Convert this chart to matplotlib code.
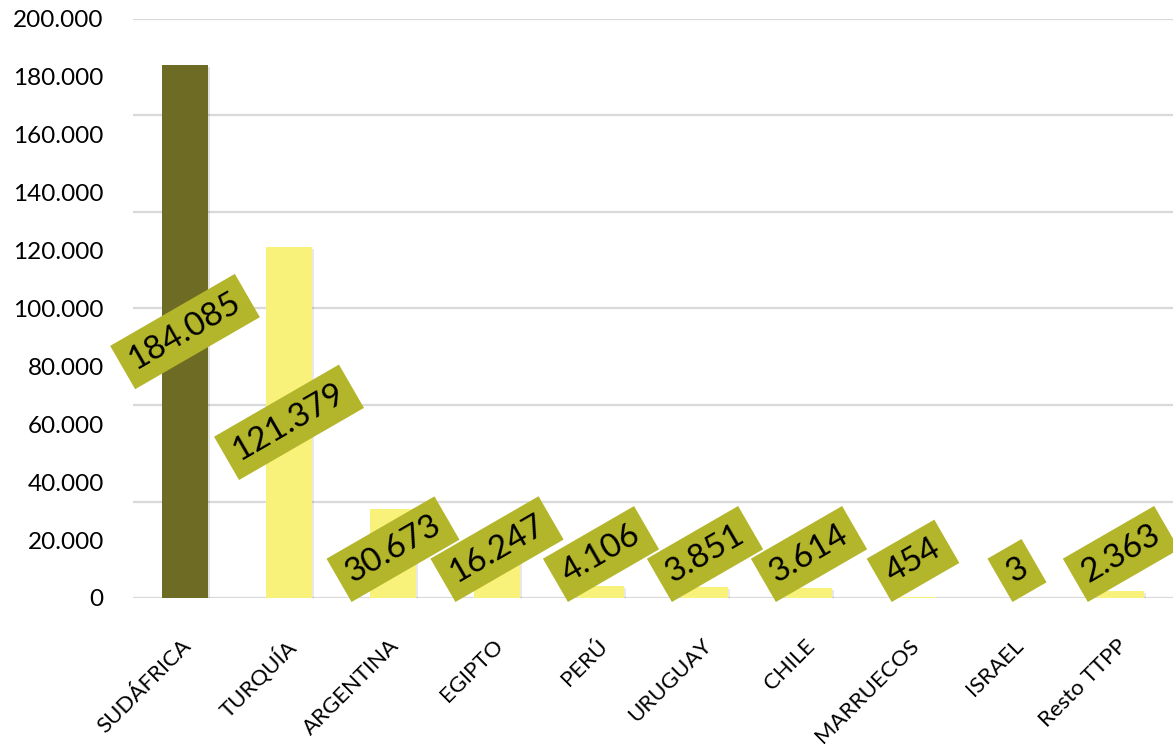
import numpy as np
import matplotlib
matplotlib.use('Agg')
import matplotlib.pyplot as plt
from matplotlib import patheffects, transforms

# datos
paises = ['SUDÁFRICA', 'TURQUÍA', 'ARGENTINA', 'EGIPTO', 'PERÚ', 'URUGUAY',
          'CHILE', 'MARRUECOS', 'ISRAEL', 'Resto TTPP']
valores = [184085, 121379, 30673, 16247, 4106, 3851, 3614, 454, 3, 2363]
marcas_y = [0, 20000, 40000, 60000, 80000, 100000, 120000, 140000, 160000, 180000, 200000]


def miles(v):
    return f'{v:,.0f}'.replace(',', '.')


plt.rcParams['font.family'] = ['Lato', 'DejaVu Sans']

fig = plt.figure(figsize=(11.73, 7.48), dpi=100)
ax = fig.add_axes([133 / 1173, 150 / 748, 1040 / 1173, 579 / 748])

x = np.arange(len(paises))
colores = ['#6e6b25'] + ['#f9f27a'] * (len(paises) - 1)
barras = ax.bar(x, valores, width=0.44, color=colores, zorder=3)
for b in barras:
    b.set_path_effects([patheffects.SimplePatchShadow(offset=(1.5, -1.5), alpha=0.12),
                        patheffects.Normal()])

# lineas de cuadricula (6 divisiones)
for g in np.linspace(0, 200000, 7):
    ax.axhline(g, color='#d9d9d9', lw=1.6, zorder=1)

ax.set_xlim(-0.5, len(paises) - 0.5)
ax.set_ylim(0, 200000)
ax.set_yticks(marcas_y)
ax.set_yticklabels([miles(v) for v in marcas_y], fontsize=17.5)
ax.tick_params(axis='y', length=0, pad=21)
ax.set_xticks(x)
ax.set_xticklabels(paises, rotation=45, ha='right', va='top', rotation_mode='anchor', fontsize=16)
ax.tick_params(axis='x', length=0, pad=27)
desplaza = transforms.ScaledTranslation(-0.04, 0, fig.dpi_scale_trans)
for lab in ax.get_xticklabels():
    lab.set_transform(lab.get_transform() + desplaza)
for s in ax.spines.values():
    s.set_visible(False)

# etiquetas de datos
etiquetas = []
for xi, v in zip(x, valores):
    t = ax.text(xi, v / 2, miles(v), rotation=30, rotation_mode='anchor',
                ha='center', va='center', fontsize=24, color='black', zorder=5,
                bbox=dict(boxstyle='square,pad=0.3', fc='#b3b52a', ec='none'))
    etiquetas.append(t)

fig.canvas.draw()
r = fig.canvas.get_renderer()
limite = ax.transData.transform((0, 0))[1] - 4
for t in etiquetas:
    bb = t.get_bbox_patch().get_window_extent(r)
    if bb.y0 < limite:
        px, py = ax.transData.transform(t.get_position())
        nx, ny = ax.transData.inverted().transform((px, py + limite - bb.y0))
        t.set_y(ny)

fig.savefig('out.png', dpi=100)
